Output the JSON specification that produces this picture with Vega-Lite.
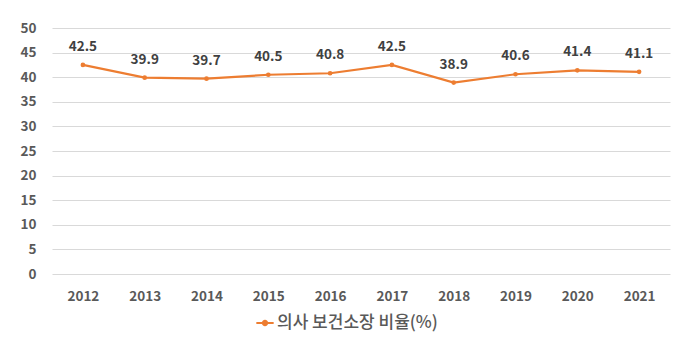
{
  "$schema": "https://vega.github.io/schema/vega-lite/v6.json",
  "width": 618,
  "height": 246,
  "autosize": {"type": "none"},
  "padding": {"left": 52, "top": 28, "right": 29, "bottom": 80},
  "background": "white",
  "config": {
    "view": {"stroke": null},
    "font": "Noto Sans CJK KR"
  },
  "data": {
    "values": [
      {"year": "2012", "value": 42.5, "series": "의사 보건소장 비율(%)"},
      {"year": "2013", "value": 39.9, "series": "의사 보건소장 비율(%)"},
      {"year": "2014", "value": 39.7, "series": "의사 보건소장 비율(%)"},
      {"year": "2015", "value": 40.5, "series": "의사 보건소장 비율(%)"},
      {"year": "2016", "value": 40.8, "series": "의사 보건소장 비율(%)"},
      {"year": "2017", "value": 42.5, "series": "의사 보건소장 비율(%)"},
      {"year": "2018", "value": 38.9, "series": "의사 보건소장 비율(%)"},
      {"year": "2019", "value": 40.6, "series": "의사 보건소장 비율(%)"},
      {"year": "2020", "value": 41.4, "series": "의사 보건소장 비율(%)"},
      {"year": "2021", "value": 41.1, "series": "의사 보건소장 비율(%)"}
    ]
  },
  "encoding": {
    "x": {
      "field": "year", "type": "ordinal", "title": null,
      "scale": {"type": "point", "padding": 0.5},
      "axis": {"labelAngle": 0, "domain": false, "ticks": false, "grid": false, "labelPadding": 15, "labelFontSize": 13.5, "labelFontWeight": "bold", "labelColor": "#595959"}
    },
    "y": {
      "field": "value", "type": "quantitative", "title": null,
      "scale": {"domain": [0, 50], "nice": false},
      "axis": {"values": [0, 5, 10, 15, 20, 25, 30, 35, 40, 45, 50], "domain": false, "ticks": false, "gridColor": "#d9d9d9", "gridWidth": 1, "labelPadding": 16, "labelFontSize": 13.5, "labelFontWeight": "bold", "labelColor": "#595959"}
    }
  },
  "layer": [
    {
      "mark": {"type": "line", "strokeWidth": 2.2, "point": {"size": 22, "filled": true}},
      "encoding": {
        "color": {
          "field": "series", "type": "nominal",
          "scale": {"range": ["#ED7D31"]},
          "legend": {
            "title": null, "orient": "none", "legendX": 203, "legendY": 285,
            "symbolType": "M-1,0L1,0M-0.25,0A0.25,0.25 0 1,1 0.25,0A0.25,0.25 0 1,1 -0.25,0Z",
            "symbolSize": 300, "symbolStrokeWidth": 2,
            "labelFontSize": 17, "labelFontWeight": 500, "labelColor": "#595959", "labelOffset": 2, "labelLimit": 0
          }
        }
      }
    },
    {
      "mark": {"type": "text", "dy": -18, "fontSize": 13.5, "fontWeight": "bold", "color": "#404040"},
      "encoding": {"text": {"field": "value", "type": "quantitative", "format": ".1f"}}
    }
  ]
}
